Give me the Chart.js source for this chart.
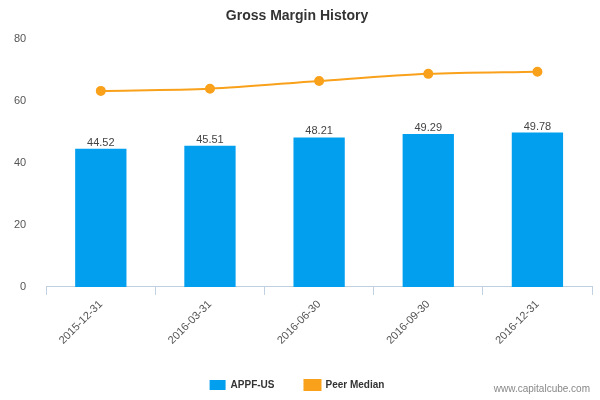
<!DOCTYPE html>
<html><head><meta charset="utf-8">
<script src="https://cdn.jsdelivr.net/npm/chart.js@4"></script>
<style>body{margin:0;background:#fff}#w{position:relative;width:600px;height:400px}
#wm{position:absolute;right:10px;bottom:6px;font:10px "Liberation Sans",Arial,sans-serif;color:#888}</style>
</head><body><div id="w"><canvas id="c" width="600" height="400"></canvas><div id="wm">www.capitalcube.com</div></div>
<script>
const categories=["2015-12-31","2016-03-31","2016-06-30","2016-09-30","2016-12-31"];
const appfValues=[44.52,45.51,48.21,49.29,49.78];
const peerMedian=[63.2,63.9,66.4,68.7,69.4];
const yTicks=[0,20,40,60,80];
const labelPlugin={id:'lbl',afterDatasetsDraw(ch){const ctx=ch.ctx;const m=ch.getDatasetMeta(1);ctx.save();ctx.font='11px "Liberation Sans",Arial,sans-serif';ctx.fillStyle='#444';ctx.textAlign='center';
m.data.forEach((b,i)=>ctx.fillText(appfValues[i].toFixed(2),b.x,b.y-6));ctx.restore();}};
new Chart(document.getElementById('c'),{
data:{labels:categories,datasets:[
{type:'line',label:'Peer Median',data:peerMedian,borderColor:'#f9a11b',backgroundColor:'#f9a11b',borderWidth:2,pointRadius:4,pointHoverRadius:4,tension:0.3,order:0},
{type:'bar',label:'APPF-US',data:appfValues,backgroundColor:'#039fef',barPercentage:0.47,categoryPercentage:1,order:1}]},
options:{responsive:false,animation:false,
layout:{padding:{left:2,right:8,top:0,bottom:0}},
plugins:{title:{display:true,text:'Gross Margin History',font:{family:'"Liberation Sans",Arial',size:14,weight:'bold'},color:'#333',padding:{top:8,bottom:14}},
legend:{position:'bottom',labels:{font:{family:'"Liberation Sans",Arial',size:10,weight:'bold'},color:'#333',boxWidth:16,boxHeight:10,padding:30},reverse:true},tooltip:{enabled:false}},
scales:{x:{offset:true,grid:{display:true,drawOnChartArea:false,offset:true,color:'#c0d0e0',tickLength:8},border:{color:'#c0d0e0'},
ticks:{maxRotation:45,minRotation:45,font:{family:'"Liberation Sans",Arial',size:11},color:'#555'}},
y:{min:0,max:80,afterBuildTicks(s){s.ticks=yTicks.map(v=>({value:v}))},grid:{display:false},border:{display:false},
ticks:{font:{family:'"Liberation Sans",Arial',size:11},color:'#555',padding:12}}}},
plugins:[labelPlugin]});
</script></body></html>
